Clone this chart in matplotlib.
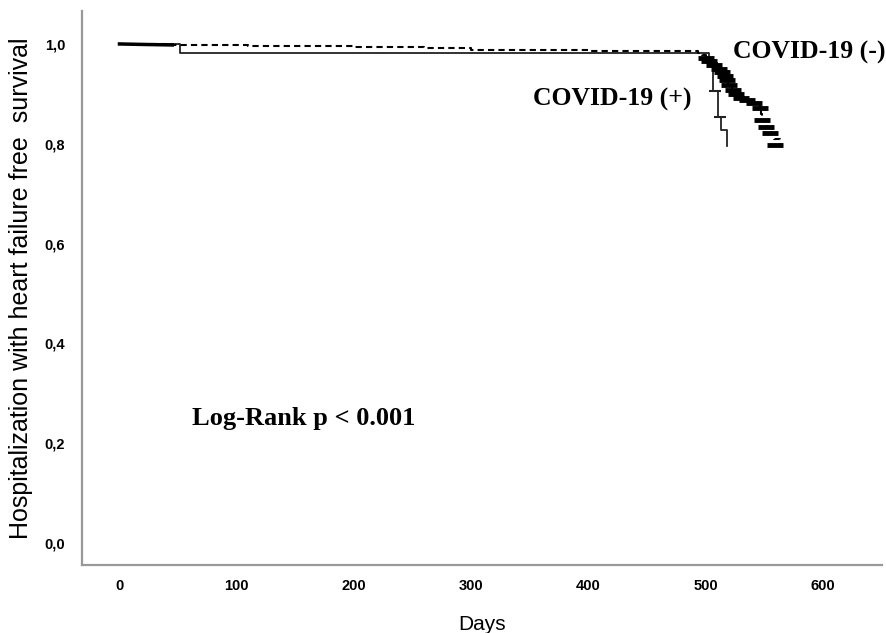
import numpy as np
import matplotlib.pyplot as plt

# Kaplan-Meier step data
pos_days = [0, 52, 503, 506, 510, 513, 518]
pos_surv = [1.000, 0.982, 0.962, 0.905, 0.853, 0.828, 0.797]

neg_days = [0, 20, 45, 70, 110, 150, 200, 260, 300, 400, 493, 497, 500, 503,
            507, 511, 514, 516, 517, 519, 522, 525, 529, 534, 540, 546, 547,
            548, 552, 556, 558]
neg_surv = [1.000, 0.999, 0.998, 0.997, 0.996, 0.995, 0.993, 0.991, 0.987,
            0.985, 0.982, 0.978, 0.972, 0.966, 0.958, 0.950, 0.944, 0.936,
            0.928, 0.918, 0.908, 0.900, 0.892, 0.887, 0.882, 0.872, 0.860,
            0.848, 0.834, 0.822, 0.810]
neg_end = 563

# censored marks in the tail of the COVID-19 (-) curve
cens_days = [500, 503, 507, 511, 514, 516, 518, 520, 523, 526, 530, 535,
             541, 546, 548, 551, 555, 559]
cens_surv = [0.972, 0.966, 0.958, 0.950, 0.944, 0.936, 0.928, 0.918, 0.908,
             0.900, 0.892, 0.887, 0.882, 0.872, 0.848, 0.834, 0.822, 0.798]

pos_cens_days = [505, 508, 512]
pos_cens_surv = [0.962, 0.905, 0.853]

fig = plt.figure(figsize=(8.87, 6.33), dpi=100)
ax = fig.add_axes([0.0924, 0.1074, 0.9016, 0.8752])

ax.step(pos_days + [pos_days[-1]], pos_surv + [0.795], where='post',
        color='#222222', lw=1.3)
ax.plot(pos_cens_days, pos_cens_surv, ls='none', marker='_', ms=9,
        mew=1.5, color='#222222')

ax.step(neg_days + [neg_end], neg_surv + [neg_surv[-1] - 0.012], where='post',
        color='black', lw=1.5, ls=(0, (3, 2)))
ax.plot(neg_days[:3], neg_surv[:3], color='black', lw=2.5)
ax.plot(cens_days, cens_surv, ls='none', marker='_', ms=11, mew=3.5,
        color='black')

serif = 'Liberation Serif'
ax.text(523, 0.982, 'COVID-19 (-)', fontsize=18.5, fontweight='bold',
        family=serif, ha='left', va='center')
ax.text(353, 0.888, 'COVID-19 (+)', fontsize=18.5, fontweight='bold',
        family=serif, ha='left', va='center')
ax.text(62, 0.25, 'Log-Rank p < 0.001', fontsize=19, fontweight='bold',
        family=serif, ha='left', va='center')

ax.set_xlim(-32, 650)
ax.set_ylim(-0.044, 1.066)
ax.set_xticks([0, 100, 200, 300, 400, 500, 600])
ax.set_yticks([0.0, 0.2, 0.4, 0.6, 0.8, 1.0])
ax.set_yticklabels(['0,0', '0,2', '0,4', '0,6', '0,8', '1,0'])
ax.tick_params(length=0, labelsize=10.5)
ax.tick_params(axis='y', pad=12)
ax.tick_params(axis='x', pad=10)
for lab in ax.get_xticklabels() + ax.get_yticklabels():
    lab.set_fontweight('bold')
    lab.set_family('Liberation Sans')

for side in ['top', 'right']:
    ax.spines[side].set_visible(False)
for side in ['left', 'bottom']:
    ax.spines[side].set_color('#999999')
    ax.spines[side].set_linewidth(1.6)

ax.set_xlabel('Days', fontsize=15, family='Liberation Sans')
ax.set_ylabel('Hospitalization with heart failure free  survival',
              fontsize=18, family='Liberation Sans')
ax.xaxis.set_label_coords(0.5, -0.09, transform=ax.transAxes)
ax.yaxis.set_label_coords(-0.061, 0.5, transform=ax.transAxes)

fig.savefig('out.png', dpi=100)
